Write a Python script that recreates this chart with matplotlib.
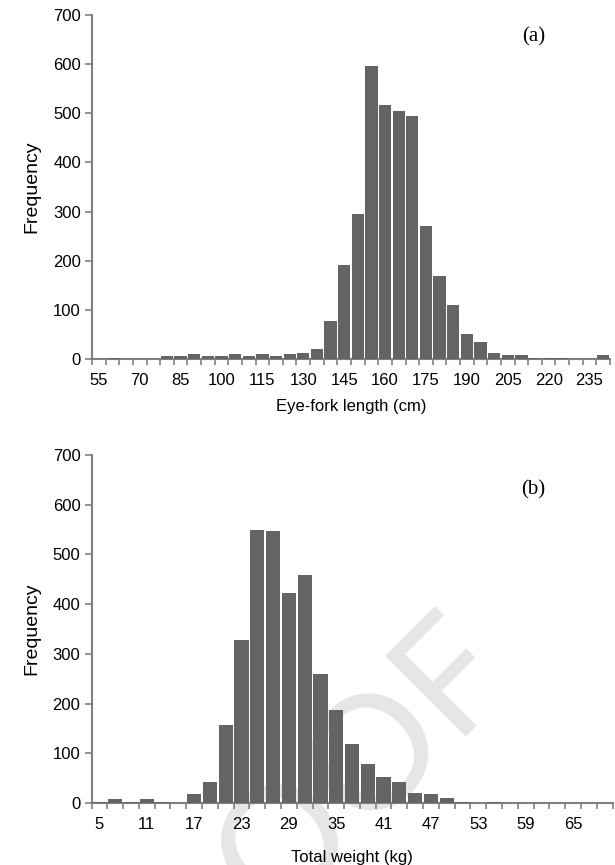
import matplotlib
matplotlib.use("Agg")
import matplotlib.pyplot as plt
import numpy as np

# Panel (a): eye-fork length (cm), 5 cm classes
length_bins = list(range(55, 245, 5))
length_freq = [0, 3, 0, 0, 0, 7, 7, 10, 7, 7, 10, 7, 10, 7, 10, 13,
               20, 78, 192, 295, 597, 517, 504, 494, 270, 169, 109, 51, 34, 13,
               8, 8, 3, 3, 3, 1, 1, 8]

# Panel (b): total weight (kg), 2 kg classes
weight_bins = list(range(5, 71, 2))
weight_freq = [2, 8, 3, 8, 3, 1, 18, 43, 157, 327, 549, 547, 422, 459, 259, 188,
               118, 78, 53, 43, 21, 18, 10, 3, 1, 3, 1, 1, 1, 1, 1, 1, 1]

plt.rcParams['font.family'] = ['Liberation Sans', 'DejaVu Sans']

W, H = 615, 865
fig = plt.figure(figsize=(W / 100, H / 100), dpi=100)

bar_color = '#646464'
axis_color = '#808080'


def draw_panel(rect, bins, freq, xlabel, tag, tag_xy, xlabelpad):
    ax = fig.add_axes(rect, zorder=1)
    x = np.arange(len(bins))
    ax.bar(x, freq, width=0.9, color=bar_color, edgecolor='none', zorder=3)
    ax.set_xlim(-0.5, len(bins) - 0.5)
    ax.set_ylim(0, 700)
    ax.set_yticks(range(0, 701, 100))
    ax.set_xticks(x[::3])
    ax.set_xticklabels([str(b) for b in bins[::3]])
    ax.set_xticks(np.arange(-0.5, len(bins), 1.0), minor=True)
    ax.tick_params(axis='x', which='major', length=0, pad=10, labelsize=12)
    ax.tick_params(axis='x', which='minor', length=4, width=1.2,
                   color=axis_color, direction='out')
    ax.tick_params(axis='y', length=5, width=1.2, color=axis_color,
                   labelsize=12, pad=3)
    for s in ['top', 'right']:
        ax.spines[s].set_visible(False)
    for s in ['left', 'bottom']:
        ax.spines[s].set_color(axis_color)
        ax.spines[s].set_linewidth(1.5)
    ax.patch.set_alpha(0)
    ax.set_xlabel(xlabel, fontsize=12, labelpad=xlabelpad)
    ax.set_ylabel('Frequency', fontsize=14, labelpad=9)
    ax.text(tag_xy[0], tag_xy[1], tag, transform=ax.transAxes, ha='center',
            va='center', fontsize=15, family=['Liberation Serif', 'DejaVu Serif'])
    return ax


# faint watermark behind the lower panel
fig.text(292 / W, 1 - 832 / H, 'PROOF', rotation=45, ha='center', va='center',
         fontsize=115, color='#e6e6e6', zorder=-1,
         family=['Lato', 'DejaVu Sans'])

draw_panel([92 / W, 1 - 359 / H, 518 / W, 344 / H],
           length_bins, length_freq, 'Eye-fork length (cm)', '(a)',
           (0.853, 0.936), 8)
draw_panel([91.5 / W, 1 - 803 / H, 521 / W, 348 / H],
           weight_bins, weight_freq, 'Total weight (kg)', '(b)',
           (0.847, 0.90), 13)

fig.savefig('out.png', dpi=100)
